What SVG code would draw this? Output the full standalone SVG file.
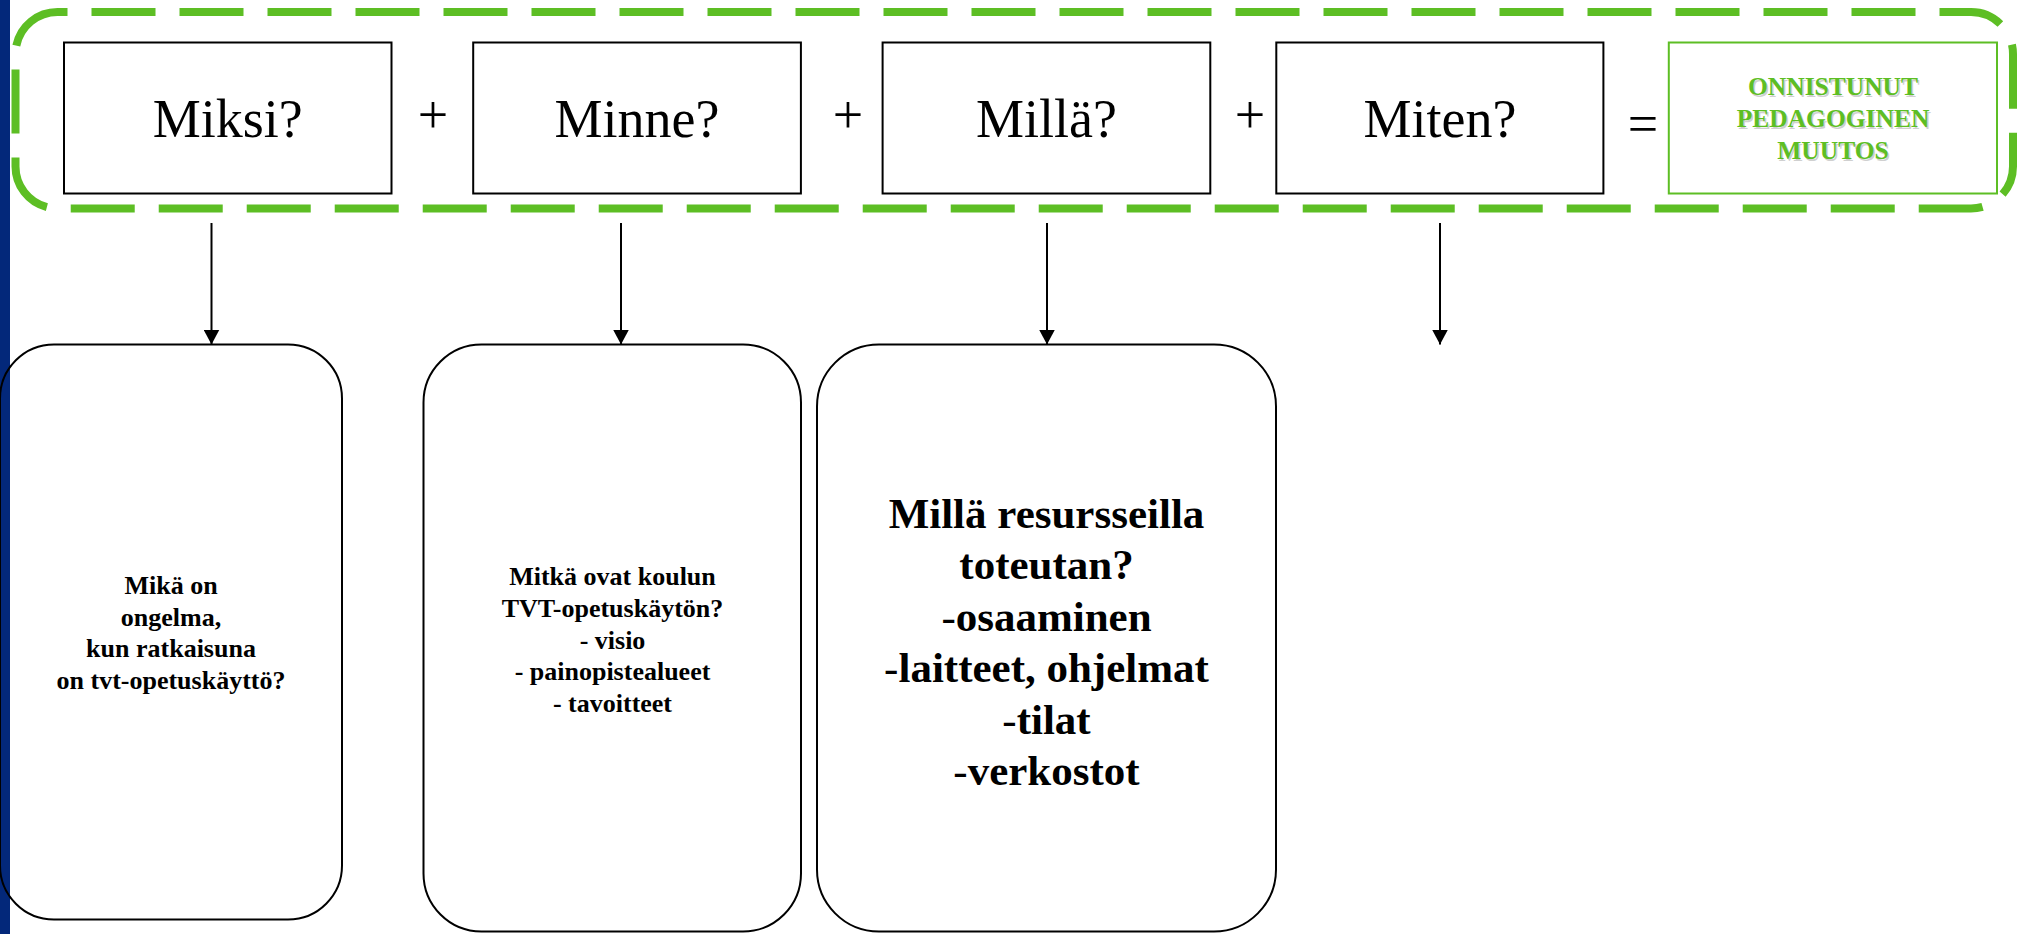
<svg xmlns="http://www.w3.org/2000/svg" width="2023" height="934" viewBox="0 0 2023 934">
  <defs>
    <style>
      .qbox { fill: #ffffff; stroke: #000000; stroke-width: 2; }
      .qtext { font-family: "Liberation Serif", "Times New Roman", serif; font-size: 54px; fill: #000000; text-anchor: middle; }
      .op { font-family: "Liberation Serif", "Times New Roman", serif; font-size: 54px; fill: #000000; text-anchor: middle; }
      .rbox { fill: none; stroke: #000000; stroke-width: 2; }
      .btext { font-family: "Liberation Serif", "Times New Roman", serif; font-weight: bold; font-size: 26px; fill: #000000; text-anchor: middle; }
      .btext-l { font-family: "Liberation Serif", "Times New Roman", serif; font-weight: bold; font-size: 43px; fill: #000000; text-anchor: middle; }
      .thin { font-weight: normal; }
      .gtext { font-family: "Liberation Serif", "Times New Roman", serif; font-weight: bold; font-size: 25.5px; fill: #5DBE24; text-anchor: middle; }
      .gshadow { font-family: "Liberation Serif", "Times New Roman", serif; font-weight: bold; font-size: 25.5px; fill: #d0d0d0; text-anchor: middle; }
      .conn { stroke: #000000; stroke-width: 2; fill: none; }
    </style>
    <marker id="arrow" viewBox="0 0 15 16" refX="15" refY="8" markerWidth="15" markerHeight="16" markerUnits="userSpaceOnUse" orient="auto">
      <path d="M0,0 L15,8 L0,16 z" fill="#000000"/>
    </marker>
  </defs>

  <rect x="0" y="0" width="2023" height="934" fill="#ffffff"/>
  <rect id="side-bar" x="0" y="0" width="10" height="934" fill="#03287A"/>

  <g id="frame">
    <rect x="15.5" y="12" width="1997.5" height="196.5" rx="42" ry="42" fill="none" stroke="#5DBE24" stroke-width="8" stroke-dasharray="64 24" stroke-dashoffset="54"/>
  </g>

  <g id="node-miksi">
    <rect class="qbox" x="64" y="42.5" width="327.5" height="151"/>
    <text class="qtext" x="227.7" y="136.5">Miksi?</text>
  </g>
  <g id="node-minne">
    <rect class="qbox" x="473.2" y="42.5" width="327.7" height="151"/>
    <text class="qtext" x="637" y="136.5">Minne?</text>
  </g>
  <g id="node-milla">
    <rect class="qbox" x="882.6" y="42.5" width="327.7" height="151"/>
    <text class="qtext" x="1046.5" y="136.5">Millä?</text>
  </g>
  <g id="node-miten">
    <rect class="qbox" x="1276.3" y="42.5" width="327.1" height="151"/>
    <text class="qtext" x="1440" y="136.5">Miten?</text>
  </g>
  <g id="node-result">
    <rect x="1668.8" y="42.5" width="328.2" height="151" fill="#ffffff" stroke="#5DBE24" stroke-width="2"/>
    <text class="gshadow" x="1834.5" y="96.5">ONNISTUNUT</text>
    <text class="gshadow" x="1834.5" y="128.5">PEDAGOGINEN</text>
    <text class="gshadow" x="1834.5" y="160.5">MUUTOS</text>
    <text class="gtext" x="1833" y="95">ONNISTUNUT</text>
    <text class="gtext" x="1833" y="127">PEDAGOGINEN</text>
    <text class="gtext" x="1833" y="159">MUUTOS</text>
  </g>

  <g id="operators">
    <text class="op" x="433" y="133">+</text>
    <text class="op" x="848" y="133">+</text>
    <text class="op" x="1250" y="133">+</text>
    <text class="op" x="1643" y="142">=</text>
  </g>

  <g id="node-why">
    <rect class="rbox" x="0" y="344.5" width="342" height="575" rx="54" ry="54"/>
    <text class="btext" x="171" y="594">Mikä on</text>
    <text class="btext" x="171" y="625.6">ongelma,</text>
    <text class="btext" x="171" y="657.2">kun ratkaisuna</text>
    <text class="btext" x="171" y="688.8">on tvt-opetuskäyttö?</text>
  </g>

  <g id="node-where">
    <rect class="rbox" x="423.5" y="344.5" width="377.5" height="587" rx="58" ry="58"/>
    <text class="btext" x="612.5" y="585">Mitkä ovat koulun</text>
    <text class="btext" x="612.5" y="616.8">TVT-opetuskäytön?</text>
    <text class="btext" x="612.5" y="648.6">- visio</text>
    <text class="btext" x="612.5" y="680.4">- painopistealueet</text>
    <text class="btext" x="612.5" y="712.2">- tavoitteet</text>
  </g>

  <g id="node-resources">
    <rect class="rbox" x="817" y="344.5" width="459" height="587" rx="62" ry="62"/>
    <text class="btext-l" x="1046.5" y="527.5">Millä resursseilla</text>
    <text class="btext-l" x="1046.5" y="579">toteutan?</text>
    <text class="btext-l" x="1046.5" y="630.5"><tspan class="thin">-</tspan>osaaminen</text>
    <text class="btext-l" x="1046.5" y="682"><tspan class="thin">-</tspan>laitteet, ohjelmat</text>
    <text class="btext-l" x="1046.5" y="733.5"><tspan class="thin">-</tspan>tilat</text>
    <text class="btext-l" x="1046.5" y="785"><tspan class="thin">-</tspan>verkostot</text>
  </g>

  <g id="connectors">
    <line class="conn" x1="211.5" y1="223" x2="211.5" y2="344.5" marker-end="url(#arrow)"/>
    <line class="conn" x1="621" y1="223" x2="621" y2="344.5" marker-end="url(#arrow)"/>
    <line class="conn" x1="1047" y1="223" x2="1047" y2="344.5" marker-end="url(#arrow)"/>
    <line class="conn" x1="1440" y1="223" x2="1440" y2="344.5" marker-end="url(#arrow)"/>
  </g>
</svg>
